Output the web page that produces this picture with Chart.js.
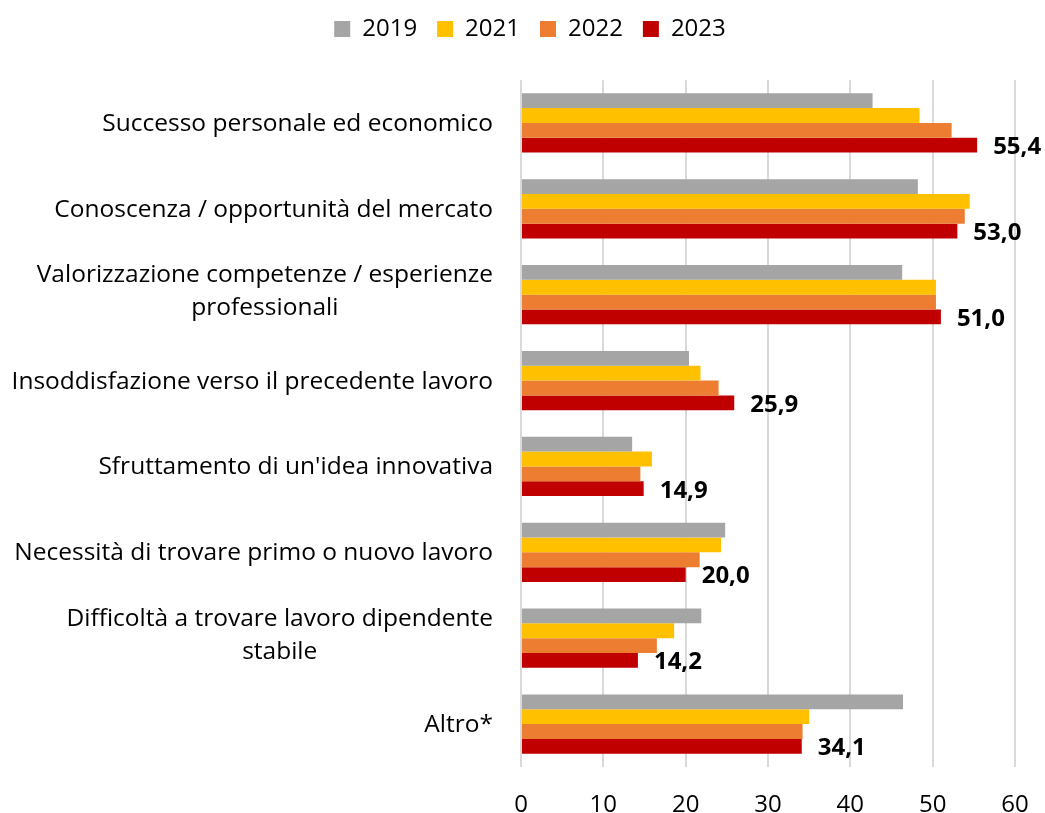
<!DOCTYPE html>
<html>
<head>
<meta charset="utf-8">
<script src="https://cdn.jsdelivr.net/npm/chart.js@4/dist/chart.umd.min.js"></script>
<style>
  html, body { margin: 0; padding: 0; background: #fff; }
  #wrap { width: 1045px; height: 813px; }
</style>
</head>
<body>
<div id="wrap"><canvas id="motiviChart"></canvas></div>
<script>
// categories (multi-line ones as arrays)
const categories = [
  "Successo personale ed economico",
  "Conoscenza / opportunità del mercato",
  ["Valorizzazione competenze / esperienze", "professionali"],
  "Insoddisfazione verso il precedente lavoro",
  "Sfruttamento di un'idea innovativa",
  "Necessità di trovare primo o nuovo lavoro",
  ["Difficoltà a trovare lavoro dipendente", "stabile"],
  "Altro*"
];

const years = ["2019", "2021", "2022", "2023"];

const values2019 = [42.7, 48.2, 46.3, 20.4, 13.5, 24.8, 21.9, 46.4];
const values2021 = [48.4, 54.5, 50.4, 21.8, 15.9, 24.3, 18.6, 35.0];
const values2022 = [52.3, 53.9, 50.4, 24.0, 14.5, 21.7, 16.5, 34.2];
const values2023 = [55.4, 53.0, 51.0, 25.9, 14.9, 20.0, 14.2, 34.1];

const xTicks = [0, 10, 20, 30, 40, 50, 60];

const colors = ["#A5A5A5", "#FFC000", "#ED7D31", "#C00000"];
const FONT = "'Open Sans', 'Noto Sans', sans-serif";

// legend box height fixed so the plot starts where it should
const legendHeight = {
  id: "legendHeight",
  beforeInit(chart) {
    const fit = chart.legend.fit;
    chart.legend.fit = function () {
      fit.bind(chart.legend)();
      this.height = 83;
    };
  }
};

// value labels next to the 2023 bars
const lastLabels = {
  id: "lastLabels",
  afterDatasetsDraw(chart) {
    const ctx = chart.ctx;
    const meta = chart.getDatasetMeta(3);
    ctx.save();
    ctx.font = "bold 24px " + FONT;
    ctx.fillStyle = "#000";
    ctx.textAlign = "left";
    ctx.textBaseline = "middle";
    meta.data.forEach((bar, i) => {
      const txt = values2023[i].toFixed(1).replace(".", ",");
      ctx.fillText(txt, bar.x + 16, bar.y + 2);
    });
    ctx.restore();
  }
};

// category labels, wrapped ones centred like in Excel
const catLabels = {
  id: "catLabels",
  afterDraw(chart) {
    const ctx = chart.ctx;
    const yScale = chart.scales.y;
    const right = 493;
    const lineH = 33;
    ctx.save();
    ctx.font = "24.5px " + FONT;
    ctx.fillStyle = "#000";
    ctx.textBaseline = "middle";
    categories.forEach((cat, i) => {
      const y = yScale.getPixelForValue(i);
      if (Array.isArray(cat)) {
        const widest = Math.max(...cat.map((l) => ctx.measureText(l).width));
        const cx = right - widest / 2;
        ctx.textAlign = "center";
        cat.forEach((line, j) => {
          ctx.fillText(line, cx, y - 3 + (j - (cat.length - 1) / 2) * lineH);
        });
      } else {
        ctx.textAlign = "right";
        ctx.fillText(cat, right, y + 1);
      }
    });
    ctx.restore();
  }
};

const ctx = document.getElementById("motiviChart").getContext("2d");

new Chart(ctx, {
  type: "bar",
  data: {
    labels: categories,
    datasets: [values2019, values2021, values2022, values2023].map((vals, i) => ({
      label: years[i],
      data: vals,
      backgroundColor: colors[i],
      borderWidth: 0,
      categoryPercentage: 0.69,
      barPercentage: 1.0
    }))
  },
  options: {
    indexAxis: "y",
    responsive: true,
    maintainAspectRatio: false,
    animation: false,
    layout: { padding: { left: 45, right: 30, top: -3, bottom: 0 } },
    plugins: {
      legend: {
        position: "top",
        labels: {
          font: { family: FONT, size: 24 },
          color: "#000",
          boxWidth: 16,
          boxHeight: 16,
          padding: 20
        }
      },
      tooltip: { enabled: false }
    },
    scales: {
      x: {
        min: 0,
        max: 60,
        afterBuildTicks(scale) {
          scale.ticks = xTicks.map((v) => ({ value: v }));
        },
        afterFit(scale) {
          scale.height = 46;
          scale.paddingLeft = 0;
          scale.paddingRight = 0;
        },
        grid: { color: "#d9d9d9", lineWidth: 2, drawTicks: false },
        border: { display: false },
        ticks: {
          padding: 24,
          color: "#000",
          font: { family: FONT, size: 24 }
        }
      },
      y: {
        afterFit(scale) {
          scale.width = 476;
        },
        grid: { display: false },
        border: { display: false },
        ticks: { display: false }
      }
    }
  },
  plugins: [legendHeight, lastLabels, catLabels]
});
</script>
</body>
</html>
